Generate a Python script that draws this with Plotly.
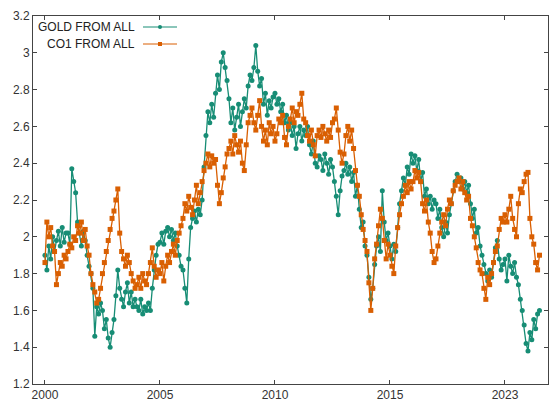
import plotly.graph_objects as go

# Monthly ratio readings, January 2000 onwards
gold_from_all = [
    # 2000
    1.90, 1.82, 1.95, 1.88, 2.00, 1.92, 1.98, 2.03, 1.95, 2.05, 1.97, 2.02,
    # 2001
    2.02, 1.96, 2.37, 2.30, 2.24, 2.08, 2.02, 1.95, 2.03, 1.98, 1.90, 1.84,
    # 2002
    1.80, 1.72, 1.46, 1.62, 1.58, 1.64, 1.60, 1.50, 1.55, 1.45, 1.40, 1.48,
    # 2003
    1.55, 1.68, 1.82, 1.72, 1.66, 1.62, 1.70, 1.75, 1.64, 1.70, 1.62, 1.66,
    # 2004
    1.62, 1.60, 1.66, 1.58, 1.62, 1.60, 1.64, 1.60, 1.72, 1.82, 1.90, 1.96,
    # 2005
    1.97, 2.02, 1.96, 2.03, 2.05, 2.00, 2.04, 1.98, 2.02, 1.95, 1.90, 1.84,
    # 2006
    1.82, 1.72, 1.64, 1.88, 2.05, 2.10, 2.14, 2.08, 2.15, 2.12, 2.20, 2.38,
    # 2007
    2.55, 2.68, 2.62, 2.72, 2.65, 2.78, 2.88, 2.80, 2.95, 3.00, 2.92, 2.85,
    # 2008
    2.75, 2.62, 2.70, 2.58, 2.65, 2.72, 2.60, 2.68, 2.75, 2.70, 2.82, 2.88,
    # 2009
    2.85, 2.92, 3.04, 2.90, 2.82, 2.86, 2.72, 2.78, 2.66, 2.74, 2.70, 2.76,
    # 2010
    2.78, 2.72, 2.75, 2.68, 2.72, 2.62, 2.66, 2.58, 2.62, 2.55, 2.60, 2.48,
    # 2011
    2.56, 2.60, 2.52, 2.58, 2.55, 2.60, 2.50, 2.45, 2.52, 2.40, 2.38, 2.44,
    # 2012
    2.42, 2.36, 2.45, 2.40, 2.34, 2.42, 2.38, 2.30, 2.22, 2.12, 2.25, 2.33,
    # 2013
    2.36, 2.40, 2.34, 2.38, 2.30, 2.35, 2.22, 2.28, 2.15, 2.05, 2.08, 1.95,
    # 2014
    1.90, 1.78, 1.66, 1.72, 1.85, 1.95, 2.00, 1.92, 2.25, 2.08, 1.98, 2.02,
    # 2015
    1.95, 1.88, 1.96, 1.92, 2.05, 2.18, 2.25, 2.32, 2.28, 2.38, 2.34, 2.45,
    # 2016
    2.40, 2.44, 2.36, 2.42, 2.30, 2.35, 2.22, 2.26, 2.18, 2.22, 2.15, 2.20,
    # 2017
    2.18, 2.10, 2.15, 2.05, 2.00, 2.08, 2.02, 2.12, 2.18, 2.25, 2.30, 2.34,
    # 2018
    2.30, 2.32, 2.26, 2.30, 2.24, 2.28, 2.18, 2.10, 2.15, 2.02, 2.05, 1.95,
    # 2019
    1.90, 1.85, 1.80, 1.76, 1.82, 1.78, 1.86, 1.94, 1.98, 1.88, 1.82, 1.85,
    # 2020
    1.88, 1.76, 1.90, 1.84, 1.80, 1.86, 1.78, 1.74, 1.66, 1.60, 1.52, 1.42,
    # 2021
    1.38, 1.48, 1.44, 1.55, 1.50, 1.58, 1.60,
]

co1_from_all = [
    # 2000
    1.86, 2.08, 2.00, 2.05, 1.95, 1.92, 1.74, 1.80, 1.86, 1.84, 1.90, 1.88,
    # 2001
    1.92, 1.96, 1.94, 2.00, 1.98, 2.06, 2.02, 2.08, 1.98, 2.04, 1.95, 1.90,
    # 2002
    1.80, 1.74, 1.70, 1.64, 1.66, 1.72, 1.80, 1.86, 1.92, 1.98, 2.04, 2.10,
    # 2003
    2.14, 2.20, 2.26, 2.02, 1.92, 1.88, 1.84, 1.90, 1.86, 1.80, 1.76, 1.72,
    # 2004
    1.74, 1.78, 1.72, 1.80, 1.76, 1.74, 1.80, 1.86, 1.94, 1.84, 1.78, 1.82,
    # 2005
    1.80, 1.86, 1.76, 1.84, 1.90, 1.86, 1.92, 1.96, 1.90, 1.98, 2.02, 2.06,
    # 2006
    2.10, 2.18, 2.14, 2.22, 2.16, 2.12, 2.20, 2.28, 2.18, 2.24, 2.30, 2.36,
    # 2007
    2.40, 2.45, 2.38, 2.44, 2.40, 2.42, 2.28, 2.18, 2.24, 2.32, 2.38, 2.45,
    # 2008
    2.48, 2.52, 2.45, 2.55, 2.50, 2.46, 2.52, 2.40, 2.36, 2.50, 2.62, 2.66,
    # 2009
    2.70, 2.62, 2.58, 2.66, 2.74, 2.60, 2.52, 2.58, 2.50, 2.62, 2.56, 2.60,
    # 2010
    2.52, 2.56, 2.64, 2.62, 2.66, 2.54, 2.50, 2.60, 2.64, 2.70, 2.62, 2.68,
    # 2011
    2.66, 2.72, 2.78, 2.64, 2.62, 2.55, 2.52, 2.58, 2.50, 2.44, 2.55, 2.58,
    # 2012
    2.54, 2.60, 2.56, 2.52, 2.58, 2.54, 2.62, 2.64, 2.70, 2.58, 2.46, 2.40,
    # 2013
    2.45, 2.55, 2.60, 2.52, 2.58, 2.48, 2.36, 2.28, 2.22, 2.12, 2.04, 1.98,
    # 2014
    1.92, 1.75, 1.60, 1.72, 1.88, 1.96, 2.06, 2.15, 2.10, 1.98, 1.88, 1.96,
    # 2015
    1.90, 1.84, 1.80, 1.95, 2.05, 2.12, 2.18, 2.22, 2.28, 2.24, 2.30, 2.26,
    # 2016
    2.30, 2.36, 2.32, 2.35, 2.30, 2.18, 2.14, 2.20, 2.08, 2.02, 1.92, 1.86,
    # 2017
    1.88, 1.95, 2.02, 2.08, 2.12, 2.06, 2.15, 2.20, 2.18, 2.25, 2.28, 2.30,
    # 2018
    2.32, 2.26, 2.30, 2.24, 2.20, 2.22, 2.10, 2.06, 2.00, 1.94, 1.86, 1.82,
    # 2019
    1.80, 1.72, 1.66, 1.78, 1.74, 1.80, 1.86, 1.92, 1.95, 2.04, 2.10, 2.08,
    # 2020
    2.12, 2.08, 2.15, 2.22, 2.10, 2.04, 2.00, 2.18, 2.26, 2.24, 2.30, 2.34,
    # 2021
    2.35, 2.10, 2.00, 1.96, 1.86, 1.82, 1.90,
]

series_names = ["GOLD FROM ALL", "CO1 FROM ALL"]
series_colors = ["#178d75", "#d95f02"]
series_symbols = ["circle", "square"]

x_tick_vals = [2000, 2005, 2010, 2015, 2020]
x_tick_text = ["2000", "2005", "2010", "2015", "2023"]
y_tick_vals = [1.2, 1.4, 1.6, 1.8, 2.0, 2.2, 2.4, 2.6, 2.8, 3.0, 3.2]
y_tick_text = ["1.2", "1.4", "1.6", "1.8", "2", "2.2", "2.4", "2.6", "2.8", "3", "3.2"]

START_YEAR = 2000


def month_axis(values):
    return [START_YEAR + i / 12 for i in range(len(values))]


fig = go.Figure()
for name, vals, color, sym in zip(series_names, [gold_from_all, co1_from_all],
                                  series_colors, series_symbols):
    fig.add_trace(go.Scatter(
        x=month_axis(vals), y=vals, name=name, mode="lines+markers",
        line=dict(color=color, width=1.3),
        marker=dict(color=color, size=5, symbol=sym, line=dict(width=0)),
        showlegend=False,
    ))

# Plot frame in pixels (used to place the key in paper coordinates)
W, H = 549, 410
ML, MR, MT, MB = 33, 1, 16, 26
PW, PH = W - ML - MR, H - MT - MB


def px_x(px):
    return (px - ML) / PW


def px_y(py):
    return (H - MB - py) / PH


# gnuplot-style key: right-aligned title followed by a line sample
shapes = []
annotations = []
for i, (name, color, sym) in enumerate(zip(series_names, series_colors, series_symbols)):
    row_y = px_y(27 + 17 * i)
    annotations.append(dict(
        x=px_x(137), y=row_y, xref="paper", yref="paper", text=name,
        showarrow=False, xanchor="right", yanchor="middle",
        font=dict(family="Liberation Sans, Arial, sans-serif", size=12, color="#222222"),
    ))
    shapes.append(dict(
        type="line", xref="paper", yref="paper", x0=px_x(143), x1=px_x(177),
        y0=row_y, y1=row_y, line=dict(color=color, width=1),
    ))
    shapes.append(dict(
        type="circle" if sym == "circle" else "rect",
        xref="paper", yref="paper", xsizemode="pixel", ysizemode="pixel",
        xanchor=px_x(160), yanchor=row_y, x0=-2, x1=2, y0=-2, y1=2,
        fillcolor=color, line=dict(width=0),
    ))

axis_common = dict(
    showgrid=False, zeroline=False, showline=True, linecolor="#444444",
    linewidth=1, mirror="ticks", ticks="inside", ticklen=4,
    tickcolor="#444444", tickwidth=1,
    tickfont=dict(family="Liberation Sans, Arial, sans-serif", size=12, color="#333333"),
)

fig.update_layout(
    width=W, height=H,
    margin=dict(l=ML, r=MR, t=MT, b=MB),
    paper_bgcolor="white", plot_bgcolor="white",
    xaxis=dict(range=[1999.48, 2021.87], tickvals=x_tick_vals, ticktext=x_tick_text,
               **axis_common),
    yaxis=dict(range=[1.2, 3.2], tickvals=y_tick_vals, ticktext=y_tick_text,
               **axis_common),
    shapes=shapes, annotations=annotations,
    showlegend=False,
)

fig.write_html("out.html")
